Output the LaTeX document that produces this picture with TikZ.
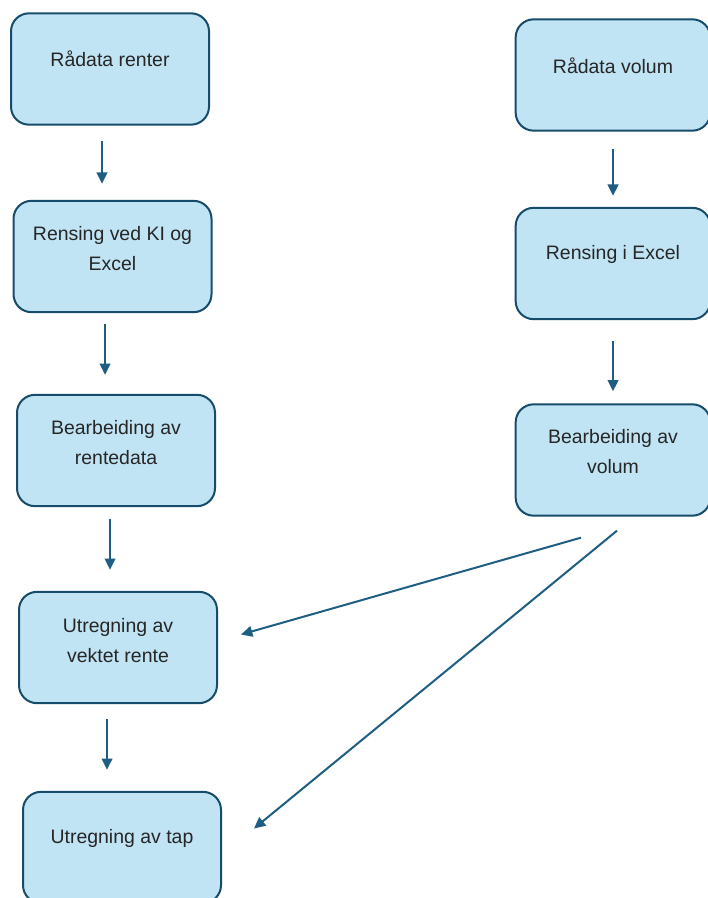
\documentclass[tikz,border=0pt]{standalone}
\usepackage{fontspec}
\setmainfont{Liberation Sans}
\usetikzlibrary{arrows.meta,calc}

\definecolor{boxfill}{RGB}{193,228,245}
\definecolor{boxline}{RGB}{21,76,105}
\definecolor{arrline}{RGB}{30,94,130}

\tikzset{
  flowbox/.style={draw=boxline, fill=boxfill, line width=1.5pt, rounded corners=13.5pt,
    minimum width=148.5pt, minimum height=83.5pt, inner sep=0pt},
  flowtext/.style={align=center, text=black!85, font=\fontsize{14.6}{22.5}\selectfont, inner sep=0pt},
  flowarr/.style={draw=arrline, line width=1.5pt, -{Triangle[length=8.5pt,width=8pt]}},
}

\begin{document}
\begin{tikzpicture}[x=0.75pt,y=0.75pt,yscale=-1,xscale=1]
\useasboundingbox (0,0) rectangle (707,898);

% left column: renter
\node[flowbox] (raarenter) at (110,69) {};
\node[flowtext] (raarentertxt) at ($(raarenter.center)+(0,-10)$) {Rådata renter};
\node[flowbox] (rensrenter) at (112.5,256.5) {};
\node[flowtext] (rensrentertxt) at ($(rensrenter.center)+(0,-8)$) {Rensing ved KI og\\Excel};
\node[flowbox] (bearbrenter) at (116,450.5) {};
\node[flowtext] (bearbrentertxt) at ($(bearbrenter.center)+(0,-8)$) {Bearbeiding av\\rentedata};
\node[flowbox] (vektet) at (118,647.5) {};
\node[flowtext] (vektettxt) at ($(vektet.center)+(0,-7)$) {Utregning av\\vektet rente};
\node[flowbox] (tap) at (122,847.5) {};
\node[flowtext] (taptxt) at ($(tap.center)+(0,-9)$) {Utregning av tap};

% right column: volum
\node[flowbox, minimum width=146pt] (raavolum) at (613,75) {};
\node[flowtext] (raavolumtxt) at ($(raavolum.center)+(0,-9)$) {Rådata volum};
\node[flowbox, minimum width=146pt] (rensvolum) at (613,263.5) {};
\node[flowtext] (rensvolumtxt) at ($(rensvolum.center)+(0,-9)$) {Rensing i Excel};
\node[flowbox, minimum width=146pt] (bearbvolum) at (613,460) {};
\node[flowtext] (bearbvolumtxt) at ($(bearbvolum.center)+(0,-8)$) {Bearbeiding av\\volum};

% vertical arrows
\draw[flowarr, shorten <=11.25pt, shorten >=12pt] ([xshift=-6pt]raarenter.south) -- ([xshift=-6pt]raarenter.south |- rensrenter.north);
\draw[flowarr, shorten <=8.25pt, shorten >=14.25pt] ([xshift=-5.6pt]rensrenter.south) -- ([xshift=-5.6pt]rensrenter.south |- bearbrenter.north);
\draw[flowarr, shorten <=9pt, shorten >=15.75pt] ([xshift=-4.5pt]bearbrenter.south) -- ([xshift=-4.5pt]bearbrenter.south |- vektet.north);
\draw[flowarr, shorten <=11.25pt, shorten >=15.75pt] ([xshift=-8.25pt]vektet.south) -- ([xshift=-8.25pt]vektet.south |- tap.north);
\draw[flowarr, shorten <=12.75pt, shorten >=8.25pt] (raavolum.south) -- (rensvolum.north);
\draw[flowarr, shorten <=15.75pt, shorten >=9pt] (rensvolum.south) -- (bearbvolum.north);

% volum into rente and tap
\draw[flowarr] ($(bearbvolum.south)+(-32,21)$) -- ($(vektet.east)+(23,-13)$);
\draw[flowarr] ($(bearbvolum.south)+(4,14)$) -- ($(tap.east)+(32,-19)$);

\end{tikzpicture}
\end{document}
